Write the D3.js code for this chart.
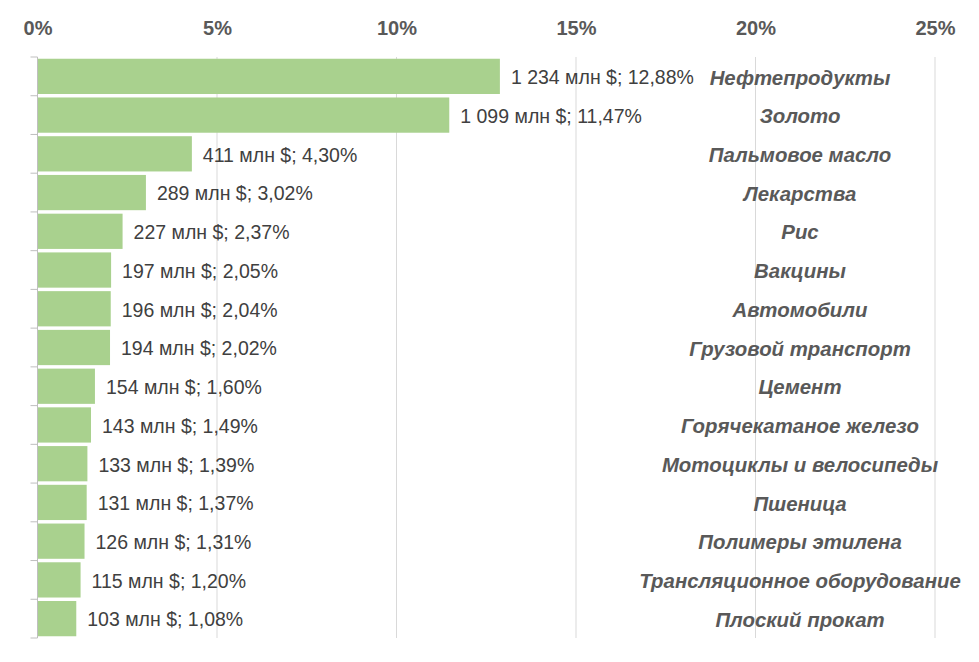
<!DOCTYPE html>
<html>
<head>
<meta charset="utf-8">
<script src="https://cdn.jsdelivr.net/npm/d3@7"></script>
<style>
  body { margin: 0; background: #fff; }
  text { font-family: "Liberation Sans", Arial, sans-serif; }
</style>
</head>
<body>
<div id="chart"></div>
<script>
var categories = ["Нефтепродукты", "Золото", "Пальмовое масло", "Лекарства", "Рис",
  "Вакцины", "Автомобили", "Грузовой транспорт", "Цемент", "Горячекатаное железо",
  "Мотоциклы и велосипеды", "Пшеница", "Полимеры этилена", "Трансляционное оборудование",
  "Плоский прокат"];
var shares = [12.88, 11.47, 4.30, 3.02, 2.37, 2.05, 2.04, 2.02, 1.60, 1.49, 1.39, 1.37, 1.31, 1.20, 1.08];
var amounts = ["1 234", "1 099", "411", "289", "227", "197", "196", "194", "154", "143", "133", "131", "126", "115", "103"];
var xTicks = [0, 5, 10, 15, 20, 25];

var chartW = 979, chartH = 662;
var plotLeft = 37.5, plotRight = 935, plotTop = 57, plotBottom = 638;

var svg = d3.select("#chart")
      .append("svg")
      .attr("width", chartW)
      .attr("height", chartH);

var x = d3.scaleLinear().domain([0, 25]).range([plotLeft, plotRight]);
var y = d3.scaleBand().domain(categories).range([plotTop, plotBottom]).paddingInner(0.09).paddingOuter(0.045);
var yOuter = d3.scaleBand().domain(categories).range([plotTop, plotBottom]);

// vertical gridlines
svg.append("g")
  .selectAll("line")
  .data(xTicks.slice(1))
  .enter()
  .append("line")
  .attr("x1", function(d){ return x(d); })
  .attr("x2", function(d){ return x(d); })
  .attr("y1", plotTop)
  .attr("y2", plotBottom)
  .attr("stroke", "#d9d9d9")
  .attr("stroke-width", 1);

// top axis labels
var xAxis = svg.append("g")
  .attr("transform", "translate(0,35)")
  .call(d3.axisTop(x).tickValues(xTicks).tickFormat(function(d){ return d + "%"; }).tickSize(0).tickPadding(0));
xAxis.select(".domain").remove();
xAxis.selectAll("text")
  .attr("font-family", "'Liberation Sans', Arial, sans-serif")
  .attr("font-size", 20)
  .attr("font-weight", "bold")
  .attr("fill", "#595959");

// bars
svg.append("g")
  .selectAll("rect")
  .data(shares)
  .enter()
  .append("rect")
  .attr("x", x(0))
  .attr("y", function(d, i){ return y(categories[i]); })
  .attr("width", function(d){ return x(d) - x(0); })
  .attr("height", y.bandwidth())
  .attr("fill", "#a9d18e");

// left axis line with ticks at band boundaries
var yAxisG = svg.append("g");
yAxisG.append("line")
  .attr("x1", plotLeft).attr("x2", plotLeft)
  .attr("y1", plotTop).attr("y2", plotBottom)
  .attr("stroke", "#bfbfbf");
yAxisG.selectAll("line.tick")
  .data(categories.concat([null]))
  .enter()
  .append("line")
  .attr("class", "tick")
  .attr("x1", plotLeft - 7).attr("x2", plotLeft)
  .attr("y1", function(d){ return d === null ? plotBottom : yOuter(d); })
  .attr("y2", function(d){ return d === null ? plotBottom : yOuter(d); })
  .attr("stroke", "#bfbfbf");

// value labels
svg.append("g")
  .selectAll("text")
  .data(shares)
  .enter()
  .append("text")
  .attr("x", function(d){ return x(d) + 11; })
  .attr("y", function(d, i){ return yOuter(categories[i]) + yOuter.bandwidth() / 2 + 1; })
  .attr("dy", "0.35em")
  .attr("font-size", 19.5)
  .attr("fill", "#404040")
  .text(function(d, i){ return amounts[i] + " млн $; " + d.toFixed(2).replace(".", ",") + "%"; });

// category labels
svg.append("g")
  .selectAll("text")
  .data(categories)
  .enter()
  .append("text")
  .attr("x", 800)
  .attr("y", function(d){ return yOuter(d) + yOuter.bandwidth() / 2 + 1; })
  .attr("dy", "0.35em")
  .attr("text-anchor", "middle")
  .attr("font-size", 20.4)
  .attr("font-weight", "bold")
  .attr("font-style", "italic")
  .attr("fill", "#595959")
  .text(function(d){ return d; });
</script>
</body>
</html>
